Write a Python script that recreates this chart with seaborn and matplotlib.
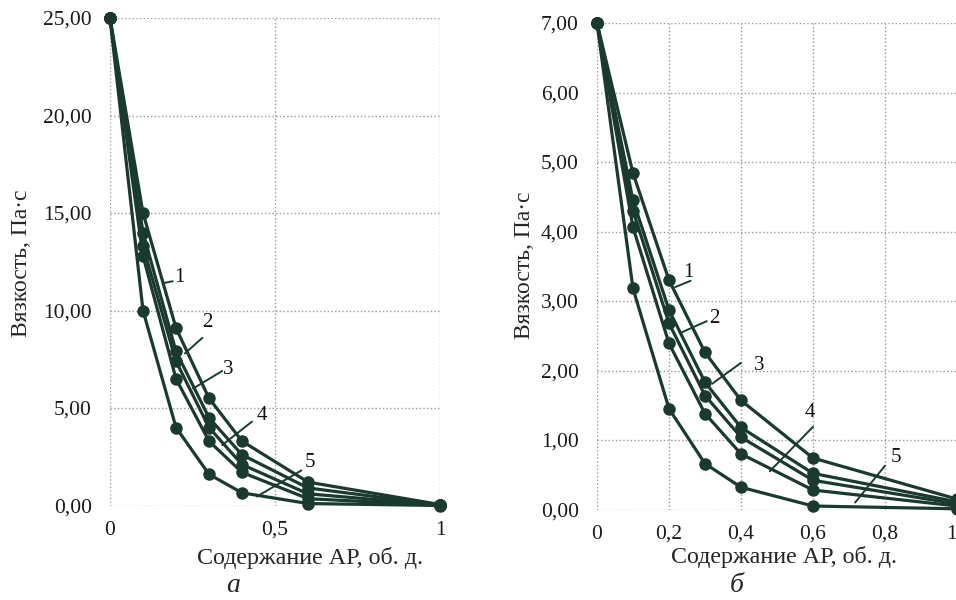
import pandas as pd
import seaborn as sns
import matplotlib.pyplot as plt
from matplotlib.ticker import FuncFormatter

# x values - content of AR, vol. fraction
x_vals = [0, 0.1, 0.2, 0.3, 0.4, 0.6, 1]

# panel a, curves 1..5
a1 = [25, 15.0, 9.1, 5.5, 3.3, 1.2, 0.05]
a2 = [25, 14.0, 7.9, 4.5, 2.6, 0.9, 0.03]
a3 = [25, 13.3, 7.4, 4.0, 2.1, 0.6, 0.02]
a4 = [25, 12.8, 6.5, 3.3, 1.7, 0.35, 0.01]
a5 = [25, 10.0, 4.0, 1.6, 0.65, 0.1, 0.0]

# panel b, curves 1..5
b1 = [7, 4.84, 3.30, 2.26, 1.57, 0.74, 0.15]
b2 = [7, 4.45, 2.87, 1.83, 1.18, 0.52, 0.11]
b3 = [7, 4.30, 2.68, 1.64, 1.04, 0.42, 0.08]
b4 = [7, 4.06, 2.39, 1.38, 0.80, 0.28, 0.05]
b5 = [7, 3.18, 1.45, 0.66, 0.32, 0.05, 0.01]

curve_names = ['1', '2', '3', '4', '5']

xticks_a = [0, 0.5, 1]
yticks_a = [0, 5, 10, 15, 20, 25]
xticks_b = [0, 0.2, 0.4, 0.6, 0.8, 1]
yticks_b = [0, 1, 2, 3, 4, 5, 6, 7]

ylabel = 'Вязкость, Па·с'
xlabel = 'Содержание АР, об. д.'

# label text position, leader start, leader end (data coords)
labels_a = [((0.21, 11.7), (0.19, 11.5), (0.16, 11.4)),
            ((0.294, 9.4), (0.28, 8.6), (0.227, 7.8)),
            ((0.358, 7.0), (0.34, 6.9), (0.252, 6.0)),
            ((0.46, 4.6), (0.43, 4.3), (0.34, 3.1)),
            ((0.606, 2.2), (0.58, 1.8), (0.445, 0.46))]
labels_b = [((0.255, 3.41), (0.26, 3.29), (0.217, 3.2)),
            ((0.325, 2.75), (0.305, 2.71), (0.231, 2.54)),
            ((0.45, 2.07), (0.40, 2.11), (0.32, 1.81)),
            ((0.59, 1.40), (0.60, 1.19), (0.48, 0.55)),
            ((0.83, 0.75), (0.80, 0.63), (0.717, 0.10))]

col = '#1b3a2f'

def long_df(curves):
    rows = []
    for name, ys in zip(curve_names, curves):
        for x, y in zip(x_vals, ys):
            rows.append({'x': x, 'y': y, 'curve': name})
    return pd.DataFrame(rows)

sns.set_style('white')
plt.rcParams['font.family'] = ['Liberation Serif', 'DejaVu Serif']

fig = plt.figure(figsize=(9.56, 6.0), dpi=100)
ax_a = fig.add_axes([110 / 956, 1 - 505.5 / 600, 330 / 956, 487.5 / 600])
ax_b = fig.add_axes([597 / 956, 1 - 509.5 / 600, 360 / 956, 486.5 / 600])

def setup(ax, df, xticks, yticks, ymax, labels):
    sns.lineplot(data=df, x='x', y='y', units='curve', estimator=None, color=col,
                 marker='o', markersize=9, markeredgewidth=0, linewidth=2.3,
                 sort=False, ax=ax, legend=False)
    for ln in ax.lines:
        ln.set_clip_on(False)
    ax.set_xlim(0, 1)
    ax.set_ylim(0, ymax)
    ax.set_xticks(xticks)
    ax.set_yticks(yticks)
    ax.xaxis.set_major_formatter(FuncFormatter(lambda v, p: ('%g' % v).replace('.', ',')))
    ax.yaxis.set_major_formatter(FuncFormatter(lambda v, p: ('%.2f' % v).replace('.', ',')))
    ax.grid(True, linestyle=':', color='#9a9a9a', linewidth=1.0)
    for s in ax.spines.values():
        s.set_visible(False)
    ax.tick_params(length=0, labelsize=15.5, colors='#1a1a1a')
    ax.tick_params(axis='y', pad=13)
    ax.tick_params(axis='x', pad=11)
    ax.set_xlabel('')
    ax.set_ylabel('')
    for name, (txt, start, end) in zip(curve_names, labels):
        ax.text(txt[0], txt[1], name, fontsize=15, ha='center', va='center', color='#111111')
        ax.plot([start[0], end[0]], [start[1], end[1]], color=col, lw=1.4)

setup(ax_a, long_df([a1, a2, a3, a4, a5]), xticks_a, yticks_a, 25, labels_a)
setup(ax_b, long_df([b1, b2, b3, b4, b5]), xticks_b, yticks_b, 7, labels_b)

# axis titles and panel letters
fig.text(22 / 956, 1 - 263 / 600, ylabel, rotation=90, ha='center', va='center', fontsize=17)
fig.text(525 / 956, 1 - 265 / 600, ylabel, rotation=90, ha='center', va='center', fontsize=17)
fig.text(310 / 956, 1 - 558 / 600, xlabel, ha='center', va='center', fontsize=17.3)
fig.text(784 / 956, 1 - 557 / 600, xlabel, ha='center', va='center', fontsize=17.3)
fig.text(233 / 956, 1 - 586 / 600, 'а', ha='center', va='center', fontsize=20, style='italic')
fig.text(737 / 956, 1 - 586 / 600, 'б', ha='center', va='center', fontsize=20, style='italic')

# keep the last tick label of panel b inside the picture
fig.canvas.draw()
ax_b.get_xticklabels()[-1].set_horizontalalignment('right')

fig.savefig('out.png', dpi=100)
